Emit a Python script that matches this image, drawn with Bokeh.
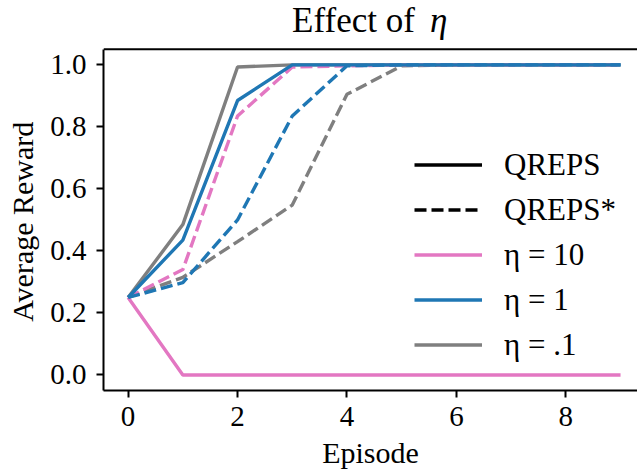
from bokeh.plotting import figure
from bokeh.models import (Range1d, FixedTicker, PrintfTickFormatter, Legend, LegendItem,
                          Span, Label)
from bokeh.embed import file_html
from bokeh.resources import INLINE

# ---- data ----
episodes = [0, 1, 2, 3, 4, 5, 6, 7, 8, 9]
qreps_eta10 = [0.25, 0.0, 0.0, 0.0, 0.0, 0.0, 0.0, 0.0, 0.0, 0.0]
qreps_eta1 = [0.25, 0.435, 0.885, 1.0, 1.0, 1.0, 1.0, 1.0, 1.0, 1.0]
qreps_eta01 = [0.25, 0.485, 0.993, 1.0, 1.0, 1.0, 1.0, 1.0, 1.0, 1.0]
qrepsstar_eta10 = [0.25, 0.34, 0.835, 0.993, 0.997, 1.0, 1.0, 1.0, 1.0, 1.0]
qrepsstar_eta1 = [0.25, 0.298, 0.50, 0.835, 0.997, 1.0, 1.0, 1.0, 1.0, 1.0]
qrepsstar_eta01 = [0.25, 0.315, 0.43, 0.548, 0.905, 0.997, 1.0, 1.0, 1.0, 1.0]
x_ticks = [0, 2, 4, 6, 8]
y_ticks = [0.0, 0.2, 0.4, 0.6, 0.8, 1.0]
legend_labels = ["QREPS", "QREPS*", "η = 10", "η = 1", "η = .1"]
title_text = "Effect of"
title_symbol = "η"
x_label = "Episode"
y_label = "Average Reward"
# legend-only proxies (no visible data)
proxy_x = [float("nan")]
proxy_y = [float("nan")]

PINK = "#e377c2"
BLUE = "#1f77b4"
GRAY = "#7f7f7f"
FONT = "Liberation Serif"

Y_LO, Y_HI = -0.05, 1.05

p = figure(width=637, height=471, output_backend="svg", toolbar_location=None,
           x_range=Range1d(-0.45, 9.31), y_range=Range1d(Y_LO, 1.2076),
           min_border_left=103, min_border_top=0, min_border_bottom=80, min_border_right=0)
p.outline_line_color = None
p.xgrid.visible = False
p.ygrid.visible = False

for ax in (p.xaxis[0], p.yaxis[0]):
    ax.axis_line_width = 2
    ax.major_tick_line_width = 2
    ax.major_tick_out = 7
    ax.major_tick_in = 0
    ax.minor_tick_line_color = None
    ax.major_label_text_font = FONT
    ax.major_label_text_font_size = "29px"
    ax.major_label_text_color = "black"
    ax.axis_label_text_font = FONT
    ax.axis_label_text_font_size = "30px"
    ax.axis_label_text_font_style = "normal"
    ax.axis_label_text_color = "black"

p.yaxis.bounds = (Y_LO, Y_HI)
p.xaxis.ticker = FixedTicker(ticks=x_ticks)
p.yaxis.ticker = FixedTicker(ticks=y_ticks)
p.yaxis.formatter = PrintfTickFormatter(format="%.1f")
p.xaxis.axis_label = x_label
# the frame reaches the top of the canvas (room for the title), so pad the
# label with non-breaking spaces to centre it on the axes box instead
p.yaxis.axis_label = y_label + "\u00a0" * 7
p.xaxis.major_label_standoff = 9
p.yaxis.major_label_standoff = 10
p.xaxis.axis_label_standoff = 7
p.yaxis.axis_label_standoff = 8

# top spine of the axes box
p.add_layout(Span(location=Y_HI, dimension="width", line_color="black", line_width=2))

LW = 3.4
DASH = "12 5"
p.line(episodes, qrepsstar_eta01, color=GRAY, line_width=LW, line_dash=DASH)
r_gray = p.line(episodes, qreps_eta01, color=GRAY, line_width=LW)
p.line(episodes, qrepsstar_eta10, color=PINK, line_width=LW, line_dash=DASH)
r_pink = p.line(episodes, qreps_eta10, color=PINK, line_width=LW)
p.line(episodes, qrepsstar_eta1, color=BLUE, line_width=LW, line_dash=DASH)
r_blue = p.line(episodes, qreps_eta1, color=BLUE, line_width=LW)

r_solid = p.line(proxy_x, proxy_y, color="black", line_width=LW)
r_dash = p.line(proxy_x, proxy_y, color="black", line_width=LW, line_dash=DASH)

legend = Legend(items=[
    LegendItem(label=legend_labels[0], renderers=[r_solid]),
    LegendItem(label=legend_labels[1], renderers=[r_dash]),
    LegendItem(label=legend_labels[2], renderers=[r_pink]),
    LegendItem(label=legend_labels[3], renderers=[r_blue]),
    LegendItem(label=legend_labels[4], renderers=[r_gray]),
], location=(311, 23))
legend.padding = 0
legend.margin = 0
legend.spacing = 0
legend.glyph_width = 68
legend.glyph_height = 45
legend.label_standoff = 22
legend.label_text_font = FONT
legend.label_text_font_size = "31px"
legend.label_text_color = "black"
legend.border_line_color = None
legend.background_fill_alpha = 0
p.add_layout(legend)

# title: "Effect of" + italic eta, placed above the top spine
p.add_layout(Label(x=0, y=Y_HI, x_offset=164, y_offset=29, text=title_text,
                   text_font=FONT, text_font_size="35px", text_color="black",
                   text_align="left", text_baseline="middle"))
p.add_layout(Label(x=0, y=Y_HI, x_offset=302, y_offset=29, text=title_symbol,
                   text_font=FONT, text_font_size="35px", text_font_style="italic",
                   text_color="black", text_align="left", text_baseline="middle"))

open("out.html", "w").write(file_html(p, INLINE))
